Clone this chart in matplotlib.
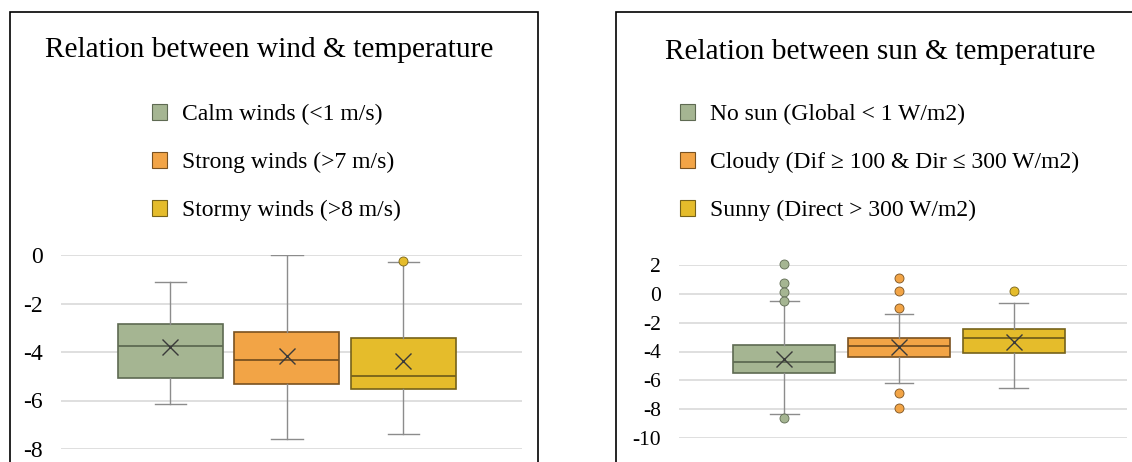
import matplotlib
matplotlib.use("Agg")
import matplotlib.pyplot as plt
from matplotlib.patches import Patch, Rectangle

plt.rcParams['font.family'] = ['Liberation Serif', 'DejaVu Serif']

# wind panel
wind_labels = ['Calm winds (<1 m/s)', 'Strong winds (>7 m/s)', 'Stormy winds (>8 m/s)']
wind_q1 = [-5.08, -5.32, -5.53]
wind_med = [-3.77, -4.33, -4.97]
wind_q3 = [-2.83, -3.16, -3.43]
wind_lo = [-6.15, -7.59, -7.38]
wind_hi = [-1.12, 0.0, -0.29]
wind_mean = [-3.81, -4.16, -4.39]
wind_fliers = [[], [], [-0.23]]
wind_ticks = [0, -2, -4, -6, -8]

# sun panel
sun_labels = ['No sun (Global < 1 W/m2)', 'Cloudy (Dif ≥ 100 & Dir ≤ 300 W/m2)',
              'Sunny (Direct > 300 W/m2)']
sun_q1 = [-5.52, -4.35, -4.09]
sun_med = [-4.72, -3.65, -3.08]
sun_q3 = [-3.54, -3.08, -2.45]
sun_lo = [-8.34, -6.19, -6.52]
sun_hi = [-0.52, -1.42, -0.61]
sun_mean = [-4.53, -3.72, -3.31]
sun_fliers = [[2.05, 0.73, 0.13, -0.49, -8.62], [1.12, 0.22, -1.0, -6.86, -7.9], [0.2]]
sun_ticks = [2, 0, -2, -4, -6, -8, -10]

fills = ['#A5B592', '#F2A446', '#E5BC2B']
edges = ['#5E6A52', '#7A5220', '#76621A']

W, H = 1132, 462
fig = plt.figure(figsize=(W / 100, H / 100), dpi=100)


def make_stats(q1, med, q3, lo, hi, mean, fliers):
    return [dict(q1=a, med=b, q3=c, whislo=d, whishi=e, mean=f, fliers=g)
            for a, b, c, d, e, f, g in zip(q1, med, q3, lo, hi, mean, fliers)]


def draw_panel(rect, stats, ticks, xlim, width, capw, tick_size):
    ax = fig.add_axes(rect)
    bp = ax.bxp(stats, positions=[1, 2, 3], widths=width, capwidths=capw,
                patch_artist=True, showmeans=True,
                whiskerprops=dict(color='#8C8C8C', lw=1.0),
                capprops=dict(color='#8C8C8C', lw=1.0),
                meanprops=dict(marker='x', markersize=12, markeredgecolor='#3A3A3A',
                               markeredgewidth=1.0))
    for i in range(3):
        bp['boxes'][i].set(facecolor=fills[i], edgecolor=edges[i], lw=1.2)
        bp['medians'][i].set(color=edges[i], lw=1.3)
        bp['fliers'][i].set(marker='o', markersize=6.5, markerfacecolor=fills[i],
                            markeredgecolor=edges[i], markeredgewidth=0.6, clip_on=False)
    ax.set_xlim(*xlim)
    ax.set_ylim(min(ticks), max(ticks))
    ax.set_yticks(ticks)
    ax.set_yticklabels([str(t) for t in ticks], fontsize=tick_size)
    ax.set_xticks([])
    ax.tick_params(axis='y', length=0, pad=13)
    for s in ax.spines.values():
        s.set_visible(False)
    ax.yaxis.grid(True, color='#D9D9D9', lw=1.2)
    ax.set_axisbelow(True)
    return ax


# left panel
draw_panel([61 / W, 1 - 449 / H, 461 / W, 194 / H],
           make_stats(wind_q1, wind_med, wind_q3, wind_lo, wind_hi, wind_mean, wind_fliers),
           wind_ticks, (0.06, 4.02), 0.9, 0.27, 17)
# right panel
draw_panel([679 / W, 1 - 438 / H, 448 / W, 173 / H],
           make_stats(sun_q1, sun_med, sun_q3, sun_lo, sun_hi, sun_mean, sun_fliers),
           sun_ticks, (0.08, 3.99), 0.89, 0.25, 15.5)

# chart frames (bottom edge runs off the image)
fig.patches.append(Rectangle((10 / W, -0.2), 528 / W, 1.2 - 12 / H, transform=fig.transFigure,
                             fill=False, edgecolor='black', lw=1.2))
fig.patches.append(Rectangle((616 / W, -0.2), 0.6, 1.2 - 12 / H, transform=fig.transFigure,
                             fill=False, edgecolor='black', lw=1.2))

# titles
fig.text(269 / W, 1 - 50 / H, 'Relation between wind & temperature', ha='center', va='center',
         fontsize=21.2)
fig.text(880 / W, 1 - 52 / H, 'Relation between sun & temperature', ha='center', va='center',
         fontsize=21.2)

# legends
for labels, x0 in [(wind_labels, 152), (sun_labels, 680)]:
    handles = [Patch(facecolor=fills[i], edgecolor=edges[i], lw=0.8) for i in range(3)]
    fig.legend(handles, labels, loc='upper left', bbox_to_anchor=(x0 / W, 1 - 104 / H),
               frameon=False, fontsize=17, borderpad=0, borderaxespad=0,
               handlelength=0.64, handleheight=0.64, handletextpad=0.64, labelspacing=1.14)

fig.savefig('out.png', dpi=100)
